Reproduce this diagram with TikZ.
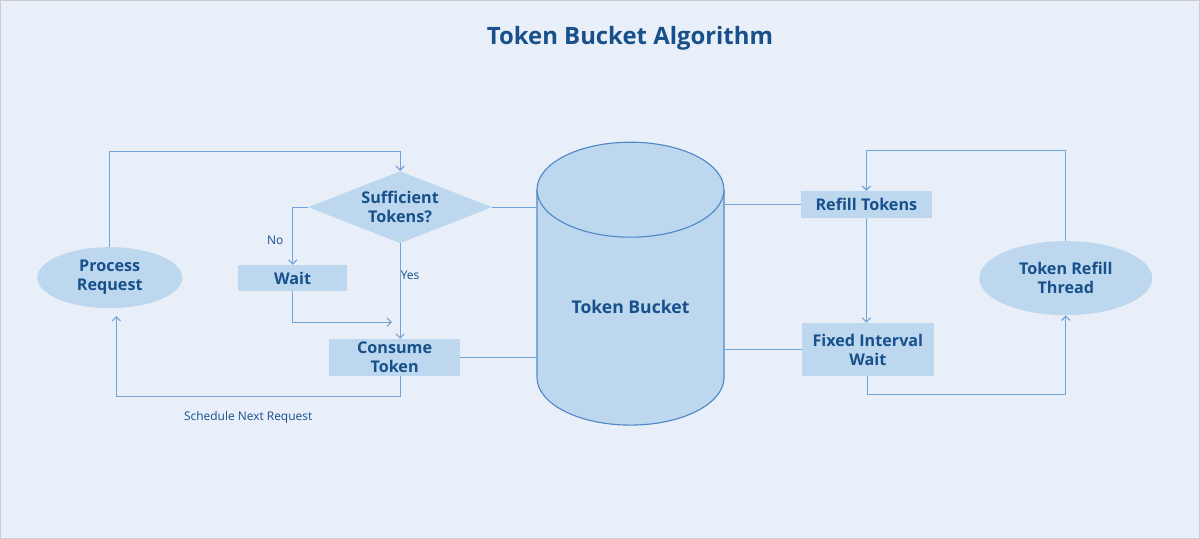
\documentclass[tikz,border=0pt]{standalone}
\usepackage{fontspec}
\setmainfont{Open Sans}
\usepackage{xcolor}
\usepackage{tikz}
\usetikzlibrary{arrows.meta,shapes.geometric}
\definecolor{bgblue}{HTML}{E9EFF9}
\definecolor{boxblue}{HTML}{BDD7EE}
\definecolor{lineblue}{HTML}{6FA5DB}
\definecolor{edgeblue}{HTML}{4F88C6}
\definecolor{textblue}{HTML}{17508A}
\tikzset{>={Straight Barb[length=3pt,width=6pt]}}
\tikzset{box node/.style={rectangle,fill=boxblue,text=textblue,align=center,inner sep=0pt,
            font=\bfseries\fontsize{11.5}{13.5}\selectfont},
         oval node/.style={ellipse,fill=boxblue,text=textblue,align=center,inner sep=0pt,
            font=\bfseries\fontsize{11.5}{13.5}\selectfont},
         check node/.style={diamond,fill=boxblue,text=textblue,align=center,inner sep=0pt,aspect=2.55,
            font=\bfseries\fontsize{11.5}{13.5}\selectfont},
         link/.style={draw=lineblue,line width=0.8pt},
         label text/.style={text=textblue,font=\fontsize{8.5}{10}\selectfont},
            }

\begin{document}
\begin{tikzpicture}[x=0.025cm,y=-0.025cm]

    \fill[bgblue,draw=black!20] (0,0) rectangle (1200,538);
    \useasboundingbox (0,0) rectangle (1200,538);

    \node[text=textblue,font=\bfseries\fontsize{17}{20}\selectfont] (title) at (630,38) {Token Bucket Algorithm};

    \node[oval node,minimum width=3.625cm,minimum height=1.525cm] (pr) at (109.5,277.5) {Process\\Request};
    \node[check node,minimum width=4.6cm,minimum height=1.8cm] (dec) at (400,207) {Sufficient\\Tokens?};
    \node[box node,minimum width=2.725cm,minimum height=0.65cm] (wait) at (292.5,278) {Wait};
    \node[box node,minimum width=3.275cm,minimum height=0.925cm] (consume) at (394.5,357.5) {Consume\\Token};

    % bucket outline
    \node[minimum width=4.675cm,minimum height=7.075cm] (bucket) at (630.5,283.5) {};
    \filldraw[fill=boxblue,draw=edgeblue,line width=0.8pt] (537,189.5) -- (537,377.5)
        arc[start angle=180,end angle=360,x radius=2.3375cm,y radius=1.1875cm] -- (724,189.5);
    \filldraw[fill=boxblue,draw=edgeblue,line width=0.8pt] (630.5,189.5) ellipse [x radius=2.3375cm,y radius=1.1875cm];
    \node[text=textblue,font=\bfseries\fontsize{12.5}{14}\selectfont] (bucketlabel) at (630.5,307) {Token Bucket};

    \node[box node,minimum width=3.275cm,minimum height=0.675cm] (refill) at (866.5,204.5) {Refill Tokens};
    \node[box node,minimum width=3.3cm,minimum height=1.325cm] (fixed) at (868,349.5) {Fixed Interval\\Wait};
    \node[oval node,minimum width=4.325cm,minimum height=1.85cm] (thread) at (1066,278) {Token Refill\\Thread};

    \coordinate (waitend) at (392,322);
    \coordinate (prin) at (116,316);

    \node[label text] (nolabel) at (275,240) {No};
    \node[label text] (yeslabel) at (410,275) {Yes};
    \node[label text] (schedlabel) at (248,417) {Schedule Next Request};

    % request side
    \draw[link,->] (pr.north) -- ++(0,-95) -| (dec.north);
    \draw[link,->] (dec.west) -| (wait.north);
    \draw[link,->] (dec.south) -- (dec.south |- consume.north);
    \draw[link,->] (wait.south) |- (waitend);
    \draw[link,->] (consume.south -| dec.south) -- ++(0,20) -| (prin);
    \draw[link] (dec.east) -- (dec.east -| bucket.west);
    \draw[link] (consume.east) -- (consume.east -| bucket.west);

    % refill side
    \draw[link] (bucket.east |- refill.west) -- (refill.west);
    \draw[link] (bucket.east |- fixed.west) -- (fixed.west);
    \draw[link,->] (refill.south) -- (refill.south |- fixed.north);
    \draw[link,->] (fixed.south) -- ++(0,18) -| (thread.south);
    \draw[link,->] (thread.north) -- ++(0,-90) -| (refill.north);

\end{tikzpicture}
\end{document}
